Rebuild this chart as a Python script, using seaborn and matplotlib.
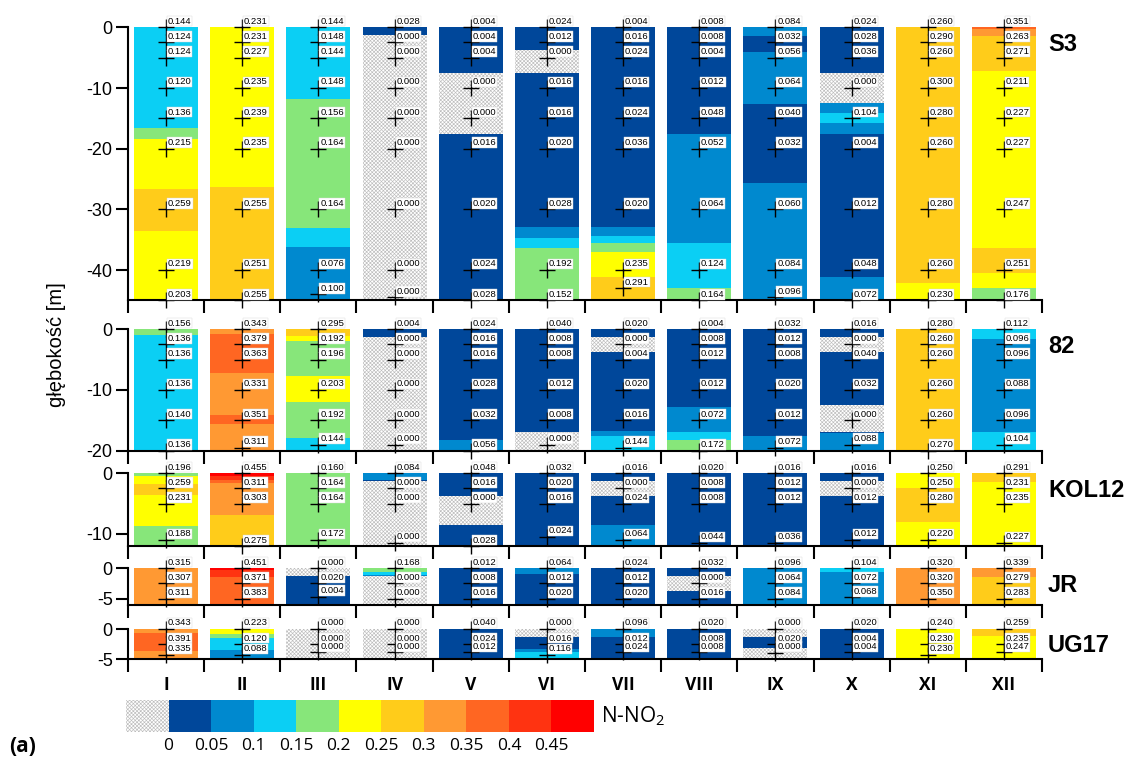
import numpy as np
import pandas as pd
import matplotlib
matplotlib.use("Agg")
import matplotlib.pyplot as plt
import seaborn as sns

sns.set_theme(style="ticks")
plt.rcParams["font.family"] = ["Liberation Sans", "DejaVu Sans"]
plt.rcParams["axes.unicode_minus"] = False
plt.rcParams["hatch.linewidth"] = 0.45
plt.rcParams["mathtext.fontset"] = "custom"
plt.rcParams["mathtext.rm"] = "Open Sans"
for key in ("text.color", "axes.labelcolor", "xtick.color", "ytick.color", "axes.edgecolor"):
    plt.rcParams[key] = "black"

# ---------------------------------------------------------------- data
months = ["I", "II", "III", "IV", "V", "VI", "VII", "VIII", "IX", "X", "XI", "XII"]
stations = ["S3", "82", "KOL12", "JR", "UG17"]

# N-NO2 class limits and colours
levels = [0.0, 0.05, 0.10, 0.15, 0.20, 0.25, 0.30, 0.35, 0.40, 0.45, 0.50]
level_labels = ["0", "0.05", "0.1", "0.15", "0.2", "0.25", "0.3", "0.35", "0.4", "0.45"]
level_colors = ["#00479a", "#0089cf", "#0bcff4", "#87e67a", "#ffff00",
                "#ffcc1a", "#ff9933", "#ff6622", "#ff3311", "#ff0000"]

# S3: sampling depths (m), last depth per month, concentrations
s3_depths = [0, 2.5, 5, 10, 15, 20, 30, 40]
s3_last = [45, 45, 44, 44.5, 45, 45, 43, 45, 44.5, 45, 45, 45]
s3_values = [
    [0.144, 0.124, 0.124, 0.120, 0.136, 0.215, 0.259, 0.219, 0.203],
    [0.231, 0.231, 0.227, 0.235, 0.239, 0.235, 0.255, 0.251, 0.255],
    [0.144, 0.148, 0.144, 0.148, 0.156, 0.164, 0.164, 0.076, 0.100],
    [0.028, 0.000, 0.000, 0.000, 0.000, 0.000, 0.000, 0.000, 0.000],
    [0.004, 0.004, 0.004, 0.000, 0.000, 0.016, 0.020, 0.024, 0.028],
    [0.024, 0.012, 0.000, 0.016, 0.016, 0.020, 0.028, 0.192, 0.152],
    [0.004, 0.016, 0.024, 0.016, 0.024, 0.036, 0.020, 0.235, 0.291],
    [0.008, 0.008, 0.004, 0.012, 0.048, 0.052, 0.064, 0.124, 0.164],
    [0.084, 0.032, 0.056, 0.064, 0.040, 0.032, 0.060, 0.084, 0.096],
    [0.024, 0.028, 0.036, 0.000, 0.104, 0.004, 0.012, 0.048, 0.072],
    [0.260, 0.290, 0.260, 0.300, 0.280, 0.260, 0.280, 0.260, 0.230],
    [0.351, 0.263, 0.271, 0.211, 0.227, 0.227, 0.247, 0.251, 0.176],
]

# 82
st82_depths = [0, 2.5, 5, 10, 15]
st82_last = [20, 19.5, 19, 19, 20, 19, 19.5, 20, 19.5, 19, 20, 19]
st82_values = [
    [0.156, 0.136, 0.136, 0.136, 0.140, 0.136],
    [0.343, 0.379, 0.363, 0.331, 0.351, 0.311],
    [0.295, 0.192, 0.196, 0.203, 0.192, 0.144],
    [0.004, 0.000, 0.000, 0.000, 0.000, 0.000],
    [0.024, 0.016, 0.016, 0.028, 0.032, 0.056],
    [0.040, 0.008, 0.008, 0.012, 0.008, 0.000],
    [0.020, 0.000, 0.004, 0.020, 0.016, 0.144],
    [0.004, 0.008, 0.012, 0.012, 0.072, 0.172],
    [0.032, 0.012, 0.008, 0.020, 0.012, 0.072],
    [0.016, 0.000, 0.040, 0.032, 0.000, 0.088],
    [0.280, 0.260, 0.260, 0.260, 0.260, 0.270],
    [0.112, 0.096, 0.096, 0.088, 0.096, 0.104],
]

# KOL12
kol12_depths = [0, 2.5, 5]
kol12_last = [11, 12, 11, 11.5, 12, 10.5, 11, 11.5, 11.5, 11, 11, 11.5]
kol12_values = [
    [0.196, 0.259, 0.231, 0.188],
    [0.455, 0.311, 0.303, 0.275],
    [0.160, 0.164, 0.164, 0.172],
    [0.084, 0.000, 0.000, 0.000],
    [0.048, 0.016, 0.000, 0.028],
    [0.032, 0.020, 0.016, 0.024],
    [0.016, 0.000, 0.024, 0.064],
    [0.020, 0.008, 0.008, 0.044],
    [0.016, 0.012, 0.012, 0.036],
    [0.016, 0.000, 0.012, 0.012],
    [0.250, 0.250, 0.280, 0.220],
    [0.291, 0.231, 0.235, 0.227],
]

# JR
jr_depths = [0, 2.5]
jr_last = [5, 5, 4.7, 5, 5, 5, 5, 5, 5, 4.8, 5, 5]
jr_values = [
    [0.315, 0.307, 0.311],
    [0.451, 0.371, 0.383],
    [0.000, 0.020, 0.004],
    [0.168, 0.000, 0.000],
    [0.012, 0.008, 0.016],
    [0.064, 0.012, 0.020],
    [0.024, 0.012, 0.020],
    [0.032, 0.000, 0.016],
    [0.096, 0.064, 0.084],
    [0.104, 0.072, 0.068],
    [0.320, 0.320, 0.350],
    [0.339, 0.279, 0.283],
]

# UG17
ug17_depths = [0, 2.5]
ug17_last = [4.25, 4.3, 3.85, 3.85, 3.85, 4.3, 3.85, 3.85, 3.9, 3.85, 4.3, 3.85]
ug17_values = [
    [0.343, 0.391, 0.335],
    [0.223, 0.120, 0.088],
    [0.000, 0.000, 0.000],
    [0.000, 0.000, 0.000],
    [0.040, 0.024, 0.012],
    [0.000, 0.016, 0.116],
    [0.096, 0.012, 0.024],
    [0.020, 0.008, 0.008],
    [0.000, 0.020, 0.000],
    [0.020, 0.004, 0.004],
    [0.240, 0.230, 0.230],
    [0.259, 0.235, 0.247],
]

station_depths = [s3_depths, st82_depths, kol12_depths, jr_depths, ug17_depths]
station_last = [s3_last, st82_last, kol12_last, jr_last, ug17_last]
station_values = [s3_values, st82_values, kol12_values, jr_values, ug17_values]
station_bottom = [45, 20, 12, 6, 5]
station_yticks = [[0, -10, -20, -30, -40], [0, -10, -20], [0, -10], [0, -5], [0, -5]]

# ---------------------------------------------------------------- layout
W, H = 1133, 760
PX_PER_M = 6.07
X0, XW = 128, 914
panel_tops = [27.3, 329.3, 473.3, 568.3, 629.0]
BAR_W = 0.84
HATCH = "x" * 9
HATCH_EDGE = "#bdbdbd"

fig = plt.figure(figsize=(W / 100, H / 100), dpi=100)


def px_axes(x, y, w, h):
    return fig.add_axes([x / W, 1 - (y + h) / H, w / W, h / H])


def profile_value(z, d, v):
    """Interpolate a vertical profile between neighbouring samples."""
    d = np.asarray(d, float)
    v = np.asarray(v, float)
    zc = np.clip(z, d[0], d[-1])
    i = np.clip(np.searchsorted(d, zc, side="right") - 1, 0, len(d) - 2)
    t = (zc - d[i]) / (d[i + 1] - d[i])
    w = t ** 2 / (t ** 2 + (1 - t) ** 2)
    return v[i] + w * (v[i + 1] - v[i])


def profile_classes(z, d, v):
    v = np.asarray(v, float)
    val = profile_value(z, d, v)
    cls = np.digitize(val - 1e-9, levels[1:-1])
    nearest = np.abs(z[:, None] - np.asarray(d, float)[None, :]).argmin(axis=1)
    cls[v[nearest] == 0] = -1
    return cls


for k, name in enumerate(stations):
    bottom = station_bottom[k]
    ax = px_axes(X0, panel_tops[k], XW, bottom * PX_PER_M)

    rows = []
    for j in range(12):
        d = list(station_depths[k]) + [station_last[k][j]]
        v = station_values[k][j]
        ze = np.linspace(0, bottom, int(bottom / 0.02) + 1)
        zc = 0.5 * (ze[1:] + ze[:-1])
        cls = profile_classes(zc, d, v)
        cut = np.flatnonzero(np.diff(cls)) + 1
        starts = np.r_[0, cut]
        ends = np.r_[cut, len(cls)]
        for s, e in zip(starts, ends):
            z0, z1 = ze[s], ze[e]
            c = cls[s]
            if c < 0:
                ax.bar(j, z1 - z0, bottom=-z1, width=BAR_W, color="white",
                       hatch=HATCH, edgecolor=HATCH_EDGE, linewidth=0, zorder=2)
            else:
                ax.bar(j, z1 - z0, bottom=-z1, width=BAR_W,
                       color=level_colors[min(c, 9)], linewidth=0, zorder=2)
        for dd, vv in zip(d, v):
            rows.append({"col": j, "y": -dd, "value": vv})

    pts = pd.DataFrame(rows)
    sns.scatterplot(data=pts, x="col", y="y", marker="+", s=130, color="black",
                    linewidth=1.0, ax=ax, legend=False, zorder=6, clip_on=False)
    for _, r in pts.iterrows():
        ax.annotate(f"{r['value']:.3f}", (r["col"], r["y"]), xytext=(1.3, 4.4),
                    textcoords="offset points", fontsize=6.8, ha="left", va="center",
                    bbox=dict(boxstyle="square,pad=0.08", fc="white", ec="#d8d8d8", lw=0.3),
                    zorder=10, annotation_clip=False)

    ax.set_xlim(-0.5, 11.5)
    ax.set_ylim(-bottom, 0)
    ax.set(xlabel="", ylabel="")
    ax.set_yticks(station_yticks[k])
    ax.set_yticklabels([str(t) for t in station_yticks[k]])
    ax.set_xticks(np.arange(-0.5, 12, 1))
    ax.set_xticklabels([])
    if k == len(stations) - 1:
        ax.set_xticks(np.arange(12), minor=True)
        ax.set_xticklabels(months, minor=True, fontsize=12.5, fontweight="bold",
                           family=["Open Sans", "DejaVu Sans"])
        ax.tick_params(axis="x", which="minor", length=0, pad=12)
    else:
        ax.tick_params(axis="x", which="minor", length=0)
    ax.tick_params(axis="both", which="major", direction="out", length=9, width=1.5,
                   color="black", labelsize=13, pad=2, left=True, bottom=True)
    ax.tick_params(axis="y", which="minor", left=False)
    sns.despine(ax=ax)
    for sp in ("left", "bottom"):
        ax.spines[sp].set_linewidth(1.5)
        ax.spines[sp].set_color("black")
    ax.set_facecolor("none")

    fig.text(1048 / W, 1 - (panel_tops[k] + 17) / H, name, fontsize=17,
             fontweight="bold", ha="left", va="center")

fig.text(57 / W, 1 - 345 / H, "głębokość [m]", rotation=90, fontsize=14.5,
         ha="center", va="center")

# ---------------------------------------------------------------- colour key
cax = px_axes(126, 700, 468, 32)
cax.bar(-1, 1, bottom=0, width=1, color="white", hatch=HATCH,
        edgecolor=HATCH_EDGE, linewidth=0)
cax.bar(np.arange(10), np.ones(10), bottom=0, width=1, color=level_colors, linewidth=0)
cax.set_xlim(-1.5, 9.5)
cax.set_ylim(0, 1)
cax.axis("off")
for i, lab in enumerate(level_labels):
    cax.text(i - 0.5, -0.45, lab, ha="center", va="center", fontsize=12.5,
             family=["Open Sans", "DejaVu Sans"])
fig.text(601 / W, 1 - 716 / H, r"N-NO$_\mathregular{2}$", fontsize=15,
         family=["Open Sans", "DejaVu Sans"], ha="left", va="center")
fig.text(9 / W, 1 - 747 / H, "(a)", fontsize=15, fontweight="bold",
         family=["Open Sans", "DejaVu Sans"], ha="left", va="center")

fig.savefig("out.png", dpi=100)
